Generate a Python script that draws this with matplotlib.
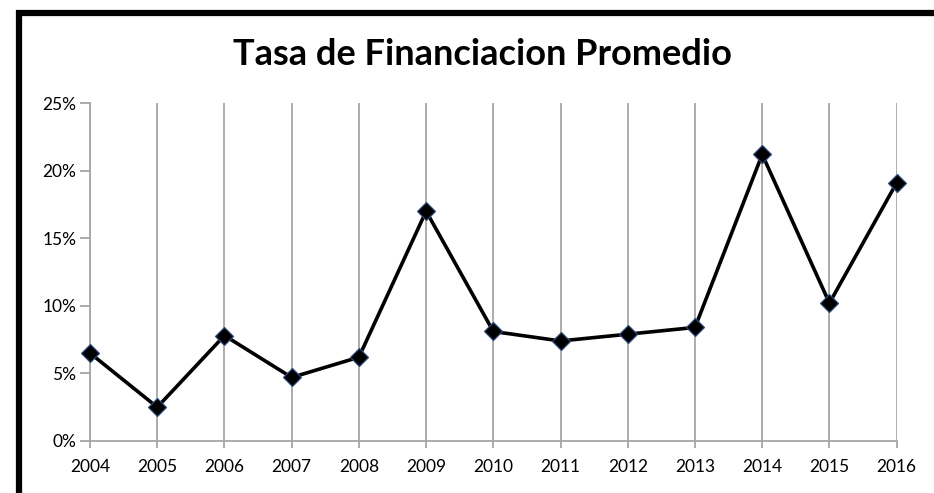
import matplotlib.pyplot as plt
from matplotlib.patches import Rectangle
from matplotlib.ticker import PercentFormatter

years = ["2004", "2005", "2006", "2007", "2008", "2009", "2010",
         "2011", "2012", "2013", "2014", "2015", "2016"]
rates = [6.5, 2.5, 7.8, 4.7, 6.2, 17.0, 8.1, 7.4, 7.9, 8.4, 21.2, 10.2, 19.1]
y_ticks = [0, 5, 10, 15, 20, 25]

plt.rcParams['font.family'] = ['Lato', 'DejaVu Sans']

fig = plt.figure(figsize=(9.34, 4.93), dpi=100)
ax = fig.add_axes([0.0964, 0.1055, 0.8636, 0.6855])

x = list(range(len(years)))
ax.plot(x, rates, color='black', linewidth=2.6, marker='D', markersize=9,
        markerfacecolor='black', markeredgecolor='#2c4a7a', markeredgewidth=0.9,
        zorder=3, clip_on=False)

grid_col = '#a6a6a6'
for xi in x:
    ax.axvline(xi, color=grid_col, linewidth=1.3, zorder=1)

ax.set_xlim(0, len(years) - 1)
ax.set_ylim(0, 25)
ax.set_xticks(x)
ax.set_xticklabels(years)
ax.set_yticks(y_ticks)
ax.yaxis.set_major_formatter(PercentFormatter(decimals=0))

for side in ['top', 'right']:
    ax.spines[side].set_visible(False)
for side in ['left', 'bottom']:
    ax.spines[side].set_color(grid_col)
    ax.spines[side].set_linewidth(1.3)

ax.tick_params(axis='y', direction='out', length=7, width=1.3, color=grid_col,
               labelsize=12.5, pad=3)
ax.tick_params(axis='x', direction='out', length=5, width=1.3, color=grid_col,
               labelsize=12.5, pad=8)

fig.text(0.517, 0.89, "Tasa de Financiacion Promedio", ha='center', va='center',
         fontsize=26, fontweight='bold')

# chart frame (top and left edges visible, rest cropped)
fig.patches.append(Rectangle((0.0205, -0.1), 1.1, 1.0735, transform=fig.transFigure,
                             fill=False, edgecolor='black', linewidth=4.5))

fig.savefig("out.png", dpi=100)
